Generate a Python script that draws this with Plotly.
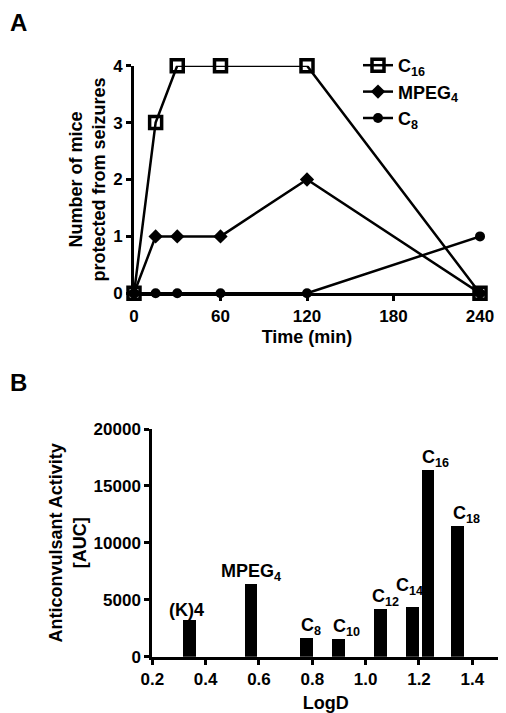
import plotly.graph_objects as go

# ---------- Panel A data ----------
time_min = [0, 15, 30, 60, 120, 240]
c16_mice = [0, 3, 4, 4, 4, 0]
mpeg4_mice = [0, 1, 1, 1, 2, 0]
c8_mice = [0, 0, 0, 0, 0, 1]
time_ticks = [0, 60, 120, 180, 240]
mice_ticks = [0, 1, 2, 3, 4]

# ---------- Panel B data ----------
compounds = ["(K)4", "MPEG<sub>4</sub>", "C<sub>8</sub>", "C<sub>10</sub>",
             "C<sub>12</sub>", "C<sub>14</sub>", "C<sub>16</sub>", "C<sub>18</sub>"]
logd = [0.34, 0.571, 0.779, 0.898, 1.057, 1.176, 1.235, 1.345]
auc = [3200, 6400, 1600, 1550, 4200, 4400, 16400, 11500]
logd_ticks = [0.2, 0.4, 0.6, 0.8, 1.0, 1.2, 1.4]
auc_ticks = [0, 5000, 10000, 15000, 20000]

# label nudges (style)
label_xshift = [-3, 0, 4, 8, 5, -3, 7, 9]
label_yshift = [-2, -2, -2, -2, -2, 7, -2, -2]

# page body has an 8px default margin: compensate
OFF = 8
W, H = 506 - OFF, 713 - OFF
FONT = "Arial, Liberation Sans, sans-serif"
BOLD = dict(family=FONT, color="black", weight="bold")

def px_x(p):
    return (p - OFF) / W

def px_y(p):
    return 1 - (p - OFF) / H

fig = go.Figure()

line_w = 2.5
fig.add_trace(go.Scatter(
    x=time_min, y=c16_mice, name="C<sub>16</sub>", mode="lines+markers",
    line=dict(color="black", width=line_w),
    marker=dict(symbol="square-open", size=12, color="black", line=dict(width=3.5, color="black")),
    cliponaxis=False, xaxis="x", yaxis="y"))
fig.add_trace(go.Scatter(
    x=time_min, y=mpeg4_mice, name="MPEG<sub>4</sub>", mode="lines+markers",
    line=dict(color="black", width=line_w),
    marker=dict(symbol="diamond", size=11, color="black"),
    cliponaxis=False, xaxis="x", yaxis="y"))
fig.add_trace(go.Scatter(
    x=time_min, y=c8_mice, name="C<sub>8</sub>", mode="lines+markers",
    line=dict(color="black", width=line_w),
    marker=dict(symbol="circle", size=10, color="black"),
    cliponaxis=False, xaxis="x", yaxis="y"))

fig.add_trace(go.Bar(
    x=logd, y=auc, width=0.048, marker=dict(color="black", line=dict(width=0)),
    showlegend=False, xaxis="x2", yaxis="y2"))

axis_common = dict(
    showline=True, linecolor="black", linewidth=3,
    ticks="outside", ticklen=5, tickwidth=3, tickcolor="black",
    showgrid=False, zeroline=False, automargin=False,
    tickfont=dict(size=17, **BOLD),
)

fig.update_layout(
    width=W, height=H,
    margin=dict(l=0, r=0, t=0, b=0),
    paper_bgcolor="white", plot_bgcolor="white",
    font=dict(family=FONT, color="black"),
    xaxis=dict(domain=[px_x(134), px_x(480)], range=[0, 240],
               tickvals=time_ticks, anchor="y",
               title=dict(text="Time (min)", font=dict(size=18, **BOLD), standoff=6),
               **axis_common),
    yaxis=dict(domain=[px_y(293.3), px_y(65.7)], range=[0, 4],
               tickvals=mice_ticks, anchor="x",
               title=dict(text="Number of mice<br>protected from seizures",
                          font=dict(size=18, **BOLD), standoff=3),
               **axis_common),
    xaxis2=dict(domain=[px_x(152.3), px_x(499)], range=[0.2, 1.5],
                tickvals=logd_ticks, ticktext=[f"{v:.1f}" for v in logd_ticks], anchor="y2",
                title=dict(text="LogD", font=dict(size=18, **BOLD), standoff=10),
                **axis_common),
    yaxis2=dict(domain=[px_y(656.7), px_y(429)], range=[0, 20000],
                tickvals=auc_ticks, ticktext=[str(v) for v in auc_ticks], anchor="x2",
                title=dict(text="Anticonvulsant Activity<br>[AUC]",
                           font=dict(size=18, **BOLD), standoff=3),
                **axis_common),
    legend=dict(x=px_x(358), y=px_y(47), xanchor="left", yanchor="top",
                font=dict(size=18, **BOLD), itemwidth=30,
                tracegroupgap=0, bgcolor="rgba(0,0,0,0)"),
    showlegend=True,
    bargap=0,
)

annotations = [
    dict(text="A", x=px_x(8), y=px_y(7), xref="paper", yref="paper",
         xanchor="left", yanchor="top", showarrow=False, font=dict(size=24, **BOLD)),
    dict(text="B", x=px_x(8), y=px_y(367), xref="paper", yref="paper",
         xanchor="left", yanchor="top", showarrow=False, font=dict(size=24, **BOLD)),
]
for name, xv, yv, dx, dy in zip(compounds, logd, auc, label_xshift, label_yshift):
    annotations.append(dict(
        text=name, x=xv, y=yv, xref="x2", yref="y2",
        xanchor="center", yanchor="bottom", showarrow=False,
        xshift=dx, yshift=dy, font=dict(size=18, **BOLD)))
fig.update_layout(annotations=annotations)

fig.write_html("out.html")
